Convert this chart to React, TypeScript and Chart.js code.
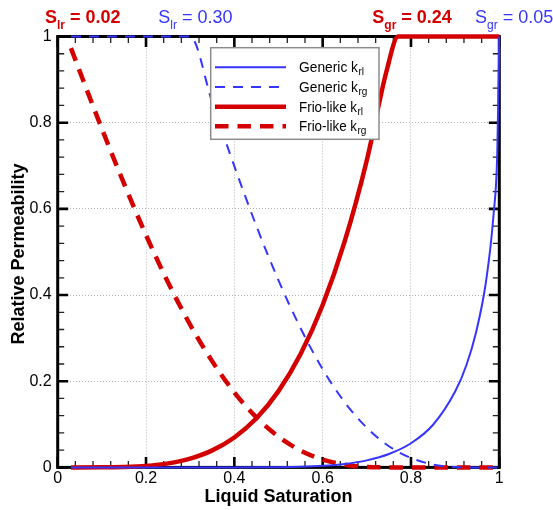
import React, { useEffect, useRef } from 'react';
import { Chart, registerables } from 'chart.js';

Chart.register(...registerables);

const FONT = '"Liberation Sans", Arial, Helvetica, sans-serif';
const BLUE = '#3535ff';
const RED = '#d40000';

// Generic (blue) curves
const genericKrlSat = [0.03, 0.3, 0.4, 0.45, 0.5, 0.55, 0.6, 0.65, 0.7, 0.75, 0.8, 0.85, 0.9, 0.925, 0.947, 0.97, 0.987, 0.9955, 1.0];
const genericKrl = [0, 0, 0, 0.0001, 0.0005, 0.0015, 0.0037, 0.0081, 0.0163, 0.031, 0.056, 0.099, 0.176, 0.236, 0.312, 0.432, 0.587, 0.733, 1.0];

const genericKrgSat = [0.03, 0.3, 0.35, 0.4, 0.45, 0.5, 0.55, 0.6, 0.65, 0.7, 0.75, 0.8, 0.85, 0.9, 0.95, 1.0];
const genericKrg = [1, 1, 0.847, 0.699, 0.56, 0.434, 0.323, 0.228, 0.151, 0.092, 0.049, 0.022, 0.0067, 0.0009, 0, 0];

// Frio-like (red) curves
const frioKrlSat = [0.03, 0.1, 0.15, 0.2, 0.25, 0.3, 0.35, 0.4, 0.45, 0.5, 0.55, 0.6, 0.65, 0.7, 0.745, 0.771, 0.8, 0.9, 1.0];
const frioKrl = [0, 0.0001, 0.001, 0.0035, 0.0093, 0.0205, 0.0395, 0.0695, 0.114, 0.177, 0.263, 0.377, 0.525, 0.713, 0.921, 1, 1, 1, 1];

const frioKrgSat = [0.03, 0.05, 0.1, 0.15, 0.2, 0.25, 0.3, 0.35, 0.4, 0.45, 0.5, 0.55, 0.6, 0.65, 0.7, 0.76, 0.8, 0.9, 1.0];
const frioKrg = [0.973, 0.919, 0.786, 0.659, 0.539, 0.429, 0.331, 0.246, 0.174, 0.116, 0.0715, 0.039, 0.018, 0.0061, 0.001, 0, 0, 0, 0];

const xTickLabels = ['0', '0.2', '0.4', '0.6', '0.8', '1'];
const yTickLabels = ['0', '0.2', '0.4', '0.6', '0.8', '1'];

const seriesMain = ['Generic k', 'Generic k', 'Frio-like k', 'Frio-like k'];
const seriesSub = ['rl', 'rg', 'rl', 'rg'];

const topMain = ['S', 'S', 'S', 'S'];
const topSub = ['lr', 'lr', 'gr', 'gr'];
const topRest = [' = 0.02', ' = 0.30', ' = 0.24', ' = 0.05'];

const xTitle = 'Liquid Saturation';
const yTitle = 'Relative Permeability';

const pts = (xs: number[], ys: number[]) => xs.map((x, i) => ({ x, y: ys[i] }));

const framePlugin = {
  id: 'frame',
  beforeDatasetsDraw(chart: any) {
    const { ctx, chartArea, scales } = chart;
    const { left, right, top, bottom } = chartArea;
    const xs = scales.x;
    const ys = scales.y;
    ctx.save();
    ctx.strokeStyle = '#000';
    for (let i = 0; i <= 25; i++) {
      const v = i * 0.04;
      const major = i % 5 === 0;
      const len = major ? 10.5 : 6.5;
      ctx.lineWidth = major ? 2.6 : 1.3;
      ctx.strokeStyle = major ? '#000' : '#222';
      const px = xs.getPixelForValue(v);
      const py = ys.getPixelForValue(v);
      ctx.beginPath();
      ctx.moveTo(px, bottom);
      ctx.lineTo(px, bottom - len);
      ctx.moveTo(px, top);
      ctx.lineTo(px, top + len);
      ctx.moveTo(left, py);
      ctx.lineTo(left + len, py);
      ctx.moveTo(right, py);
      ctx.lineTo(right - len, py);
      ctx.stroke();
    }
    ctx.strokeStyle = '#000';
    ctx.lineWidth = 3;
    ctx.strokeRect(left, top, right - left, bottom - top);
    ctx.restore();
  },
  afterDatasetsDraw(chart: any) {
    const { ctx } = chart;
    ctx.save();
    // legend box
    const bx = 210.7, by = 47.7, bw = 379 - 210.7, bh = 139.3 - 47.7;
    ctx.fillStyle = '#fff';
    ctx.fillRect(bx, by, bw, bh);
    ctx.strokeStyle = '#8c8c8c';
    ctx.lineWidth = 1.5;
    ctx.strokeRect(bx, by, bw, bh);
    const rows = [67.3, 87.0, 106.7, 126.2];
    chart.data.datasets.forEach((ds: any, i: number) => {
      const ly = rows[i];
      ctx.beginPath();
      ctx.strokeStyle = ds.borderColor;
      ctx.lineWidth = ds.borderWidth;
      ctx.setLineDash(ds.borderDash || []);
      ctx.lineCap = 'butt';
      ctx.moveTo(215, ly);
      ctx.lineTo(286, ly);
      ctx.stroke();
      ctx.setLineDash([]);
      ctx.fillStyle = '#000';
      ctx.textAlign = 'left';
      ctx.textBaseline = 'alphabetic';
      ctx.font = `15px ${FONT}`;
      const maxW = i < 2 ? 59 : 58;
      const w = Math.min(ctx.measureText(seriesMain[i]).width, maxW);
      ctx.fillText(seriesMain[i], 299, ly + 5, maxW);
      ctx.font = `10px ${FONT}`;
      ctx.fillText(seriesSub[i], 299 + w + 0.5, ly + 8);
    });
    ctx.restore();
  },
  afterDraw(chart: any) {
    const { ctx, chartArea } = chart;
    const { left, right, top, bottom } = chartArea;
    ctx.save();
    ctx.fillStyle = '#000';
    ctx.textBaseline = 'alphabetic';
    // x title
    ctx.font = `bold 18px ${FONT}`;
    ctx.textAlign = 'center';
    ctx.fillText(xTitle, (left + right) / 2, 502);
    // y title
    ctx.save();
    ctx.translate(24, (top + bottom) / 2 + 2);
    ctx.rotate(-Math.PI / 2);
    ctx.fillText(yTitle, 0, 0);
    ctx.restore();
    // top labels
    const starts = [45, 158.3, 372.3, 475];
    const colors = [RED, BLUE, RED, BLUE];
    const bolds = [true, false, true, false];
    ctx.textAlign = 'left';
    for (let i = 0; i < 4; i++) {
      const weight = bolds[i] ? 'bold ' : '';
      ctx.fillStyle = colors[i];
      let x = starts[i];
      ctx.font = `${weight}18px ${FONT}`;
      ctx.fillText(topMain[i], x, 23.3);
      x += ctx.measureText(topMain[i]).width;
      ctx.font = `${weight}12px ${FONT}`;
      ctx.fillText(topSub[i], x, 29.3);
      x += ctx.measureText(topSub[i]).width;
      ctx.font = `${weight}18px ${FONT}`;
      ctx.fillText(topRest[i], x, 23.3);
    }
    ctx.restore();
  },
};

export default function App() {
  const canvasRef = useRef<HTMLCanvasElement | null>(null);

  useEffect(() => {
    const canvas = canvasRef.current;
    if (!canvas) return;
    const chart = new Chart(canvas, {
      type: 'line',
      data: {
        datasets: [
          {
            label: 'Generic krl',
            data: pts(genericKrlSat, genericKrl),
            borderColor: BLUE,
            borderWidth: 2,
            pointRadius: 0,
            cubicInterpolationMode: 'monotone',
            clip: false,
          },
          {
            label: 'Generic krg',
            data: pts(genericKrgSat, genericKrg),
            borderColor: BLUE,
            borderWidth: 2,
            borderDash: [10, 8],
            pointRadius: 0,
            cubicInterpolationMode: 'monotone',
            clip: false,
          },
          {
            label: 'Frio-like krl',
            data: pts(frioKrlSat, frioKrl),
            borderColor: RED,
            borderWidth: 4.5,
            pointRadius: 0,
            cubicInterpolationMode: 'monotone',
            clip: false,
          },
          {
            label: 'Frio-like krg',
            data: pts(frioKrgSat, frioKrg),
            borderColor: RED,
            borderWidth: 4.5,
            borderDash: [13.5, 9],
            pointRadius: 0,
            cubicInterpolationMode: 'monotone',
            clip: false,
          },
        ] as any,
      },
      options: {
        animation: false,
        responsive: false,
        maintainAspectRatio: false,
        events: [],
        layout: { padding: { left: 0, top: 36.5, right: 553 - 499.3, bottom: 0 } },
        plugins: { legend: { display: false }, tooltip: { enabled: false } },
        scales: {
          x: {
            type: 'linear',
            min: 0,
            max: 1,
            afterFit: (s: any) => { s.height = 510 - 467.4; },
            ticks: {
              stepSize: 0.2,
              padding: 2,
              color: '#000',
              font: { family: FONT, size: 16 },
              maxRotation: 0,
              callback: (_v: any, i: number) => xTickLabels[i],
            },
            grid: { color: '#b4b4b4', lineWidth: 1, drawTicks: false },
            border: { display: false, dash: [1, 2] },
          },
          y: {
            type: 'linear',
            min: 0,
            max: 1,
            afterFit: (s: any) => { s.width = 57.7; },
            ticks: {
              stepSize: 0.2,
              padding: 6,
              color: '#000',
              font: { family: FONT, size: 16 },
              callback: (_v: any, i: number) => yTickLabels[i],
            },
            grid: { color: '#b4b4b4', lineWidth: 1, drawTicks: false },
            border: { display: false, dash: [1, 2] },
          },
        },
      } as any,
      plugins: [framePlugin],
    });
    return () => chart.destroy();
  }, []);

  return (
    <div style={{ position: 'absolute', left: 0, top: 0, width: 553, height: 510, background: '#fff' }}>
      <canvas ref={canvasRef} width={553} height={510} style={{ display: 'block', width: 553, height: 510 }} />
    </div>
  );
}
